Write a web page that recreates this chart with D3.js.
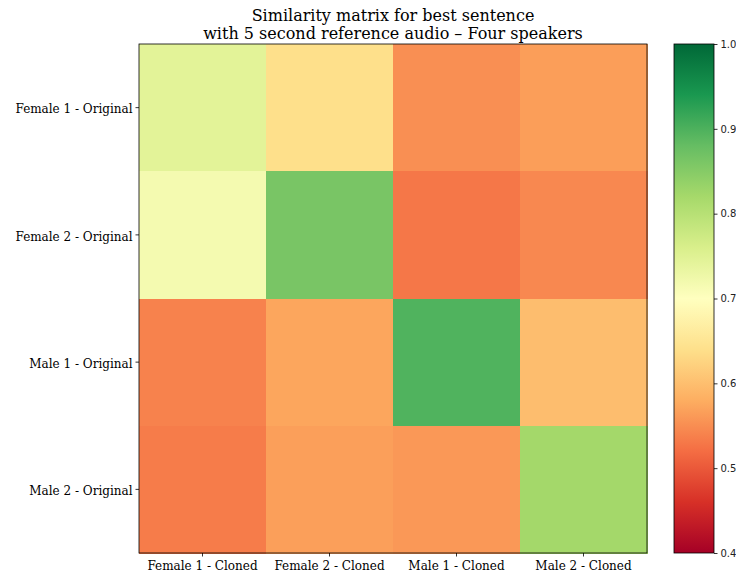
<!DOCTYPE html>
<html>
<head>
<meta charset="utf-8">
<script src="https://cdn.jsdelivr.net/npm/d3@7"></script>
<style>
  body { margin: 0; background: #fff; }
  svg { display: block; }
</style>
</head>
<body>
<svg id="chart" width="736" height="575"></svg>
<script>
// Rows: original speakers; columns: cloned speakers
const rowLabels = ["Female 1 - Original", "Female 2 - Original", "Male 1 - Original", "Male 2 - Original"];
const colLabels = ["Female 1 - Cloned", "Female 2 - Cloned", "Male 1 - Cloned", "Male 2 - Cloned"];
const scores = [
  [0.745, 0.640, 0.551, 0.565],
  [0.717, 0.862, 0.529, 0.545],
  [0.539, 0.573, 0.897, 0.598],
  [0.534, 0.566, 0.560, 0.822]
];
const colorbarTicks = [0.4, 0.5, 0.6, 0.7, 0.8, 0.9, 1.0];
const titleLines = ["Similarity matrix for best sentence", "with 5 second reference audio \u2013 Four speakers"];

const svg = d3.select("#chart");
const plot = { left: 139, top: 44, width: 508, height: 509 };
const cbar = { left: 674, top: 44, width: 40, height: 509 };

// Piecewise-linear RdYlGn over [0.4, 1.0]
const brewer = d3.schemeRdYlGn[11];
const vmin = 0.4, vmax = 1.0;
const color = d3.scaleLinear()
  .domain(d3.range(11).map(i => vmin + (vmax - vmin) * i / 10))
  .range(brewer)
  .interpolate(d3.interpolateRgb)
  .clamp(true);

const x = d3.scaleBand().domain(colLabels).range([plot.left, plot.left + plot.width]);
const y = d3.scaleBand().domain(rowLabels).range([plot.top, plot.top + plot.height]);

const cells = [];
scores.forEach((row, i) => row.forEach((v, j) => cells.push({ r: rowLabels[i], c: colLabels[j], v })));

svg.append("g").selectAll("rect").data(cells).join("rect")
  .attr("x", d => x(d.c))
  .attr("y", d => y(d.r))
  .attr("width", x.bandwidth() + 0.5)
  .attr("height", y.bandwidth() + 0.5)
  .attr("fill", d => color(d.v))
  .attr("shape-rendering", "crispEdges");

svg.append("rect")
  .attr("x", plot.left).attr("y", plot.top)
  .attr("width", plot.width).attr("height", plot.height)
  .attr("fill", "none").attr("stroke", "#000").attr("stroke-width", 0.8);

const serif = "'DejaVu Serif', serif";

const xAxis = svg.append("g")
  .attr("transform", `translate(0,${plot.top + plot.height})`)
  .call(d3.axisBottom(x).tickSize(3.5).tickPadding(5));
xAxis.select(".domain").remove();
xAxis.selectAll("text").attr("font-family", serif).attr("font-size", 12).attr("fill", "#000");
xAxis.selectAll("line").attr("stroke", "#000").attr("stroke-width", 0.8);

const yAxis = svg.append("g")
  .attr("transform", `translate(${plot.left},0)`)
  .call(d3.axisLeft(y).tickSize(3.5).tickPadding(3));
yAxis.select(".domain").remove();
yAxis.selectAll("text").attr("font-family", serif).attr("font-size", 12).attr("fill", "#000").attr("dy", "0.48em");
yAxis.selectAll("line").attr("stroke", "#000").attr("stroke-width", 0.8);

// Title
svg.append("text")
  .attr("x", plot.left + plot.width / 2)
  .attr("y", 21)
  .attr("text-anchor", "middle")
  .attr("font-family", serif)
  .attr("font-size", 16)
  .selectAll("tspan").data(titleLines).join("tspan")
  .attr("x", plot.left + plot.width / 2)
  .attr("dy", (d, i) => i === 0 ? 0 : 18)
  .text(d => d);

// Colorbar
const defs = svg.append("defs");
const grad = defs.append("linearGradient").attr("id", "cbgrad")
  .attr("x1", 0).attr("y1", 1).attr("x2", 0).attr("y2", 0);
brewer.forEach((c, i) => grad.append("stop").attr("offset", i / 10).attr("stop-color", c));

svg.append("rect")
  .attr("x", cbar.left).attr("y", cbar.top)
  .attr("width", cbar.width).attr("height", cbar.height)
  .attr("fill", "url(#cbgrad)")
  .attr("stroke", "#000").attr("stroke-width", 0.8);

const cy = d3.scaleLinear().domain([vmin, vmax]).range([cbar.top + cbar.height, cbar.top]);
const cAxis = svg.append("g")
  .attr("transform", `translate(${cbar.left + cbar.width},0)`)
  .call(d3.axisRight(cy).tickValues(colorbarTicks).tickFormat(d3.format(".1f")).tickSize(3.5).tickPadding(3));
cAxis.select(".domain").remove();
cAxis.selectAll("text").attr("font-family", "'DejaVu Sans', sans-serif").attr("font-size", 10).attr("fill", "#222");
cAxis.selectAll("line").attr("stroke", "#000").attr("stroke-width", 0.8);
</script>
</body>
</html>
